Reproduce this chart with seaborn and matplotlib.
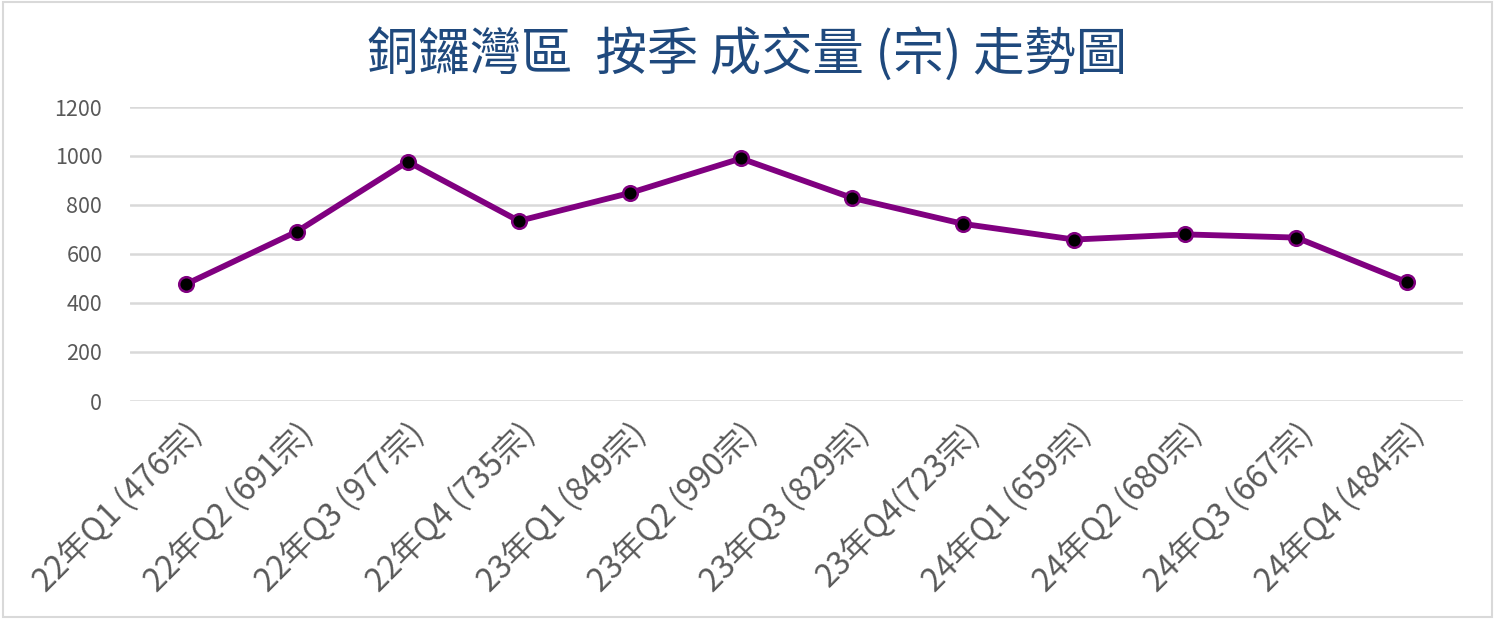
import matplotlib
matplotlib.use("Agg")
import matplotlib.pyplot as plt
import seaborn as sns
import pandas as pd
from matplotlib.patches import Rectangle

categories = ["22年Q1 (476宗)", "22年Q2 (691宗)", "22年Q3 (977宗)", "22年Q4 (735宗)",
              "23年Q1 (849宗)", "23年Q2 (990宗)", "23年Q3 (829宗)", "23年Q4(723宗)",
              "24年Q1 (659宗)", "24年Q2 (680宗)", "24年Q3 (667宗)", "24年Q4 (484宗)"]
values = [476, 691, 977, 735, 849, 990, 829, 723, 659, 680, 667, 484]
yticks = [0, 200, 400, 600, 800, 1000, 1200]
title = "銅鑼灣區  按季 成交量 (宗) 走勢圖"

sns.set_theme(style="white")
plt.rcParams['font.family'] = ['Noto Sans CJK TC', 'DejaVu Sans']

df = pd.DataFrame({"cat": categories, "val": values})

fig = plt.figure(figsize=(14.95, 6.19), dpi=100)
ax = fig.add_axes([130/1495, 1-401/619, (1463-130)/1495, (401-107)/619])

sns.lineplot(data=df, x="cat", y="val", sort=False, ax=ax, color="#800080",
             linewidth=4.2, marker="o", markersize=10.5, markerfacecolor="black",
             markeredgecolor="#800080", markeredgewidth=1.8, zorder=3)

ax.set_xlim(-0.5, len(categories) - 0.5)
ax.set_ylim(0, 1200)
ax.set_yticks(yticks)
ax.set_yticklabels([str(v) for v in yticks], fontsize=15.5, color="#595959")
ax.set_xticks(range(len(categories)))
ax.set_xticklabels(categories, rotation=45, ha="right", rotation_mode="anchor",
                   fontsize=23, color="#595959")
ax.tick_params(axis="x", length=0, pad=12)
ax.tick_params(axis="y", length=0, pad=20)
ax.grid(axis="y", color="#D9D9D9", linewidth=1.8)
ax.set_axisbelow(True)
for s in ax.spines.values():
    s.set_visible(False)
ax.set_xlabel("")
ax.set_ylabel("")

fig.text(0.5, 1-55/619, title, ha="center", va="center", fontsize=37,
         color="#1F497D")

fig.patches.append(Rectangle((0.002, 0.003), 0.996, 0.994, transform=fig.transFigure,
                             fill=False, edgecolor="#D9D9D9", linewidth=1.5))

fig.savefig("out.png", dpi=100)
